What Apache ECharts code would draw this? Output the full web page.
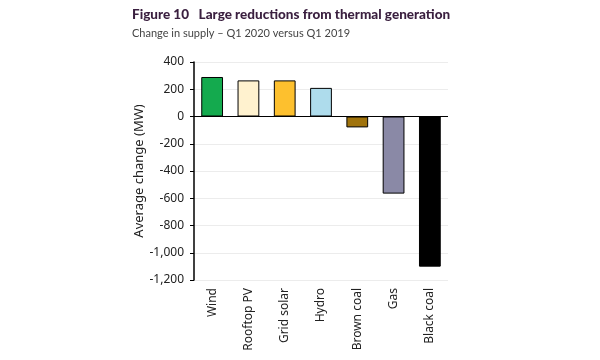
<!DOCTYPE html>
<html><head><meta charset="utf-8">
<script src="https://cdn.jsdelivr.net/npm/echarts@6/dist/echarts.min.js"></script>
<style>html,body{margin:0;padding:0;background:#fff}#c{width:600px;height:360px}</style>
</head><body><div id="c"></div>
<script>
const categories = ['Wind','Rooftop PV','Grid solar','Hydro','Brown coal','Gas','Black coal'];
const values = [290, 265, 265, 210, -80, -566, -1102];
const barColors = ['#14aa4e','#fff2cf','#fdc02e','#aedcec','#a0730c','#8a89a6','#000000'];
const yTicks = {min: -1200, max: 400, interval: 200};

const chart = echarts.init(document.getElementById('c'), null, {renderer:'canvas'});
chart.setOption({
  animation: false,
  backgroundColor: '#fff',
  title: [
    {text: 'Figure 10   Large reductions from thermal generation', left: 127, top: 3,
     textStyle: {fontFamily: 'Lato', fontWeight: 900, fontSize: 13.5, color: '#3a1f3f'}},
    {text: 'Change in supply \u2013 Q1 2020 versus Q1 2019', left: 127, top: 23,
     textStyle: {fontFamily: 'Lato', fontWeight: 'normal', fontSize: 11, color: '#444'}}
  ],
  grid: {left: 194, top: 62, right: 152, bottom: 80},
  xAxis: {
    type: 'category', data: categories,
    axisLine: {show: false, onZero: false}, axisTick: {show: false},
    axisLabel: {rotate: 90, color: '#222', fontFamily: 'Noto Sans', fontSize: 12, margin: 8}
  },
  yAxis: {
    type: 'value', min: yTicks.min, max: yTicks.max, interval: yTicks.interval,
    name: 'Average change (MW)', nameLocation: 'middle', nameGap: 45,
    nameTextStyle: {fontFamily: 'Noto Sans', fontSize: 13, color: '#222'},
    axisLine: {show: true, lineStyle: {color: '#000', width: 1.5}},
    axisTick: {show: true, length: 4, lineStyle: {color: '#000'}},
    axisLabel: {color: '#222', fontFamily: 'Noto Sans', fontSize: 12, margin: 10,
      formatter: v => v.toLocaleString('en-US')},
    splitLine: {show: true, lineStyle: {color: '#ececec', width: 1}}
  },
  series: [{
    type: 'bar', data: values.map((v, i) => ({value: v, itemStyle: {color: barColors[i]}})),
    barWidth: '60%',
    itemStyle: {borderColor: '#000', borderWidth: 1},
    markLine: {silent: true, symbol: 'none', label: {show: false},
      lineStyle: {color: '#000', width: 1, type: 'solid'}, data: [{yAxis: 0}]}
  }]
});
</script></body></html>
